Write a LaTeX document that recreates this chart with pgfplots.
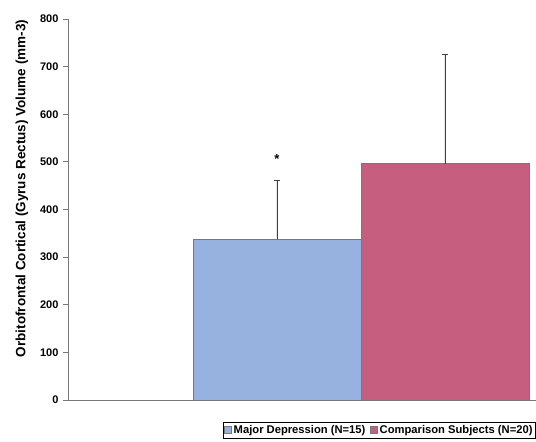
\documentclass[border=0pt]{standalone}
\usepackage{pgfplots}
\pgfplotsset{compat=1.18}
\usepackage{fontspec}
\setmainfont{Liberation Sans}
\definecolor{mdblue}{RGB}{152,178,224}
\definecolor{cspink}{RGB}{198,94,128}
\definecolor{edgegray}{RGB}{120,120,120}
\begin{document}
\begin{tikzpicture}
\begin{axis}[
  name=ax, at={(0,0)}, anchor=origin,
  scale only axis, width=468pt, height=381pt,
  xmin=0, xmax=2.786, ymin=0, ymax=800,
  ybar, bar width=1, bar shift=0pt,
  axis x line*=bottom, axis y line*=left,
  axis line style={edgegray, line width=0.8pt},
  xtick=\empty,
  ytick={0,100,...,800},
  tick align=outside, major tick length=5pt,
  tick style={edgegray, line width=0.8pt},
  /pgf/number format/assume math mode=true,
  yticklabel style={font=\fontsize{11}{12}\selectfont\bfseries, xshift=-1pt},
  ylabel={Orbitofrontal Cortical (Gyrus Rectus) Volume (mm-3)},
  ylabel style={font=\fontsize{13.5}{15}\selectfont\bfseries, at={(ticklabel cs:0.555)}, yshift=5pt},
  legend columns=2,
  legend style={at={(1,0)}, anchor=north east, yshift=-22pt,
    font=\fontsize{11.2}{12}\selectfont\bfseries, draw=black, line width=0.6pt,
    inner sep=1.2pt, /tikz/every even column/.append style={column sep=3pt}},
  legend image code/.code={\draw[#1, draw=edgegray, line width=0.5pt] (0cm,-0.1cm) rectangle (0.24cm,0.14cm);},
  error bars/y dir=plus, error bars/y explicit,
  error bars/error bar style={black!75, line width=0.9pt},
  error bars/error mark options={rotate=90, mark size=3pt, black!75, line width=0.9pt},
]
\addplot[fill=mdblue, draw=edgegray, line width=0.6pt] coordinates {(1.244,338) +- (0,124)};
\addlegendentry{Major Depression (N=15)}
\addplot[fill=cspink, draw=edgegray, line width=0.6pt] coordinates {(2.244,496) +- (0,229)};
\addlegendentry{Comparison Subjects (N=20)}
\node[font=\fontsize{13}{13}\selectfont\bfseries] at (axis cs:1.244,507) {*};
\end{axis}
\pgfresetboundingbox
\path[use as bounding box] (-68pt,-42pt) rectangle (468pt,400pt);
\end{tikzpicture}
\end{document}
